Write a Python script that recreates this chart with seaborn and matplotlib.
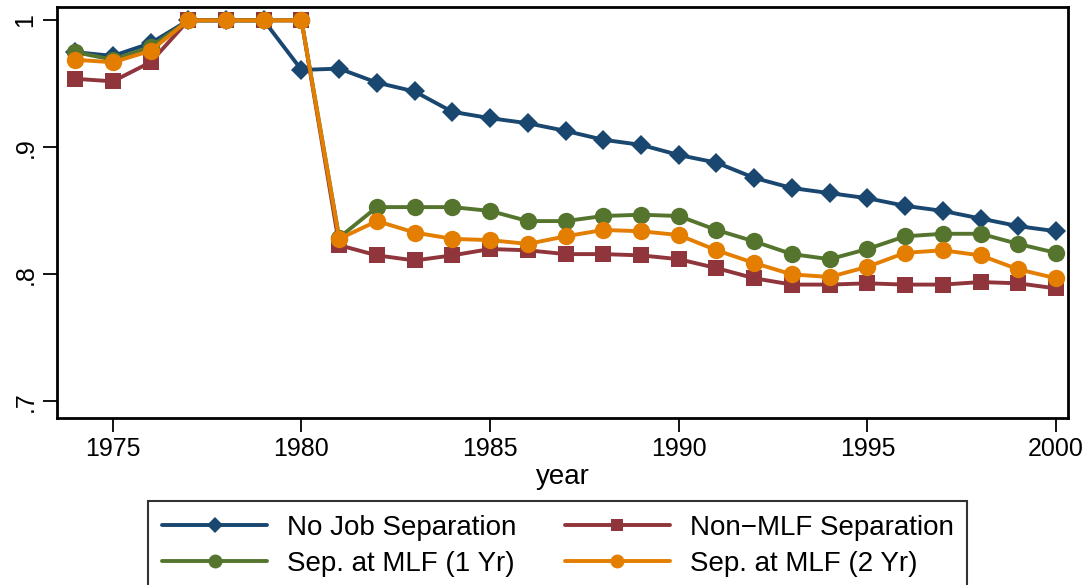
import pandas as pd
import seaborn as sns
import matplotlib.pyplot as plt

years = list(range(1974, 2001))

no_job_sep = [0.975, 0.972, 0.982, 1.0, 1.0, 1.0, 0.961, 0.962, 0.951, 0.944,
              0.928, 0.923, 0.919, 0.913, 0.906, 0.902, 0.894, 0.888, 0.876,
              0.868, 0.864, 0.860, 0.854, 0.850, 0.844, 0.838, 0.834]
non_mlf_sep = [0.954, 0.952, 0.967, 1.0, 1.0, 1.0, 1.0, 0.823, 0.815, 0.811,
               0.815, 0.820, 0.819, 0.816, 0.816, 0.815, 0.812, 0.805, 0.797,
               0.792, 0.792, 0.793, 0.792, 0.792, 0.794, 0.793, 0.789]
sep_mlf_1yr = [0.975, 0.969, 0.979, 1.0, 1.0, 1.0, 1.0, 0.829, 0.853, 0.853,
               0.853, 0.850, 0.842, 0.842, 0.846, 0.847, 0.846, 0.835, 0.826,
               0.816, 0.812, 0.820, 0.830, 0.832, 0.832, 0.824, 0.817]
sep_mlf_2yr = [0.969, 0.967, 0.976, 1.0, 1.0, 1.0, 1.0, 0.828, 0.842, 0.833,
               0.828, 0.827, 0.824, 0.830, 0.835, 0.834, 0.831, 0.819, 0.809,
               0.800, 0.798, 0.806, 0.817, 0.819, 0.815, 0.804, 0.797]

labels = ['No Job Separation', 'Non\u2212MLF Separation',
          'Sep. at MLF (1 Yr)', 'Sep. at MLF (2 Yr)']
y_ticks = [0.7, 0.8, 0.9, 1.0]
y_tick_labels = ['.7', '.8', '.9', '1']
x_ticks = [1975, 1980, 1985, 1990, 1995, 2000]


def main():
    sns.set_style('white')
    plt.rcParams['font.family'] = ['Liberation Sans', 'DejaVu Sans']
    plt.rcParams['text.color'] = 'black'

    df = pd.DataFrame({'year': years,
                       labels[0]: no_job_sep,
                       labels[1]: non_mlf_sep,
                       labels[2]: sep_mlf_1yr,
                       labels[3]: sep_mlf_2yr})

    colors = ['#1a476f', '#90353b', '#55752f', '#e37e00']
    markers = ['D', 's', 'o', 'o']
    sizes = [10.5, 11, 12.5, 12.5]

    fig = plt.figure(figsize=(10.86, 5.85), dpi=100)
    ax = fig.add_axes([0.0525, 0.2855, 0.931, 0.7025])

    handles = []
    for lab, c, m, ms in zip(labels, colors, markers, sizes):
        sns.lineplot(data=df, x='year', y=lab, color=c, marker=m, markersize=ms,
                     markeredgewidth=0, lw=2.8, ax=ax, label=lab, legend=False)
        handles.append(ax.lines[-1])

    ax.set_xlim(1973.52, 2000.32)
    ax.set_ylim(0.687, 1.0105)
    ax.set_xticks(x_ticks)
    ax.set_yticks(y_ticks)
    ax.set_yticklabels(y_tick_labels, rotation=90, va='center')
    ax.tick_params(axis='both', direction='out', length=10, width=1.3,
                   colors='black', labelcolor='black', labelsize=18, pad=4,
                   left=True, bottom=True)
    ax.set_xlabel('year', fontsize=20, labelpad=2, color='black')
    ax.set_ylabel('')
    for sp in ax.spines.values():
        sp.set_color('black')
        sp.set_linewidth(2)

    # column-wise fill: blue/green on the left, red/orange on the right
    order = [0, 2, 1, 3]
    leg = fig.legend([handles[i] for i in order], [labels[i] for i in order],
                     loc='upper center', bbox_to_anchor=(0.5135, 0.1436), ncol=2,
                     fontsize=20, frameon=True, fancybox=False, edgecolor='black',
                     handlelength=3.8, handletextpad=0.7, columnspacing=1.75,
                     labelspacing=0.35, borderpad=0.5, borderaxespad=0,
                     markerscale=0.8)
    leg.get_frame().set_linewidth(1.5)
    for t in leg.get_texts():
        t.set_color('black')

    fig.savefig('out.png', dpi=100)


if __name__ == "__main__":
    main()
